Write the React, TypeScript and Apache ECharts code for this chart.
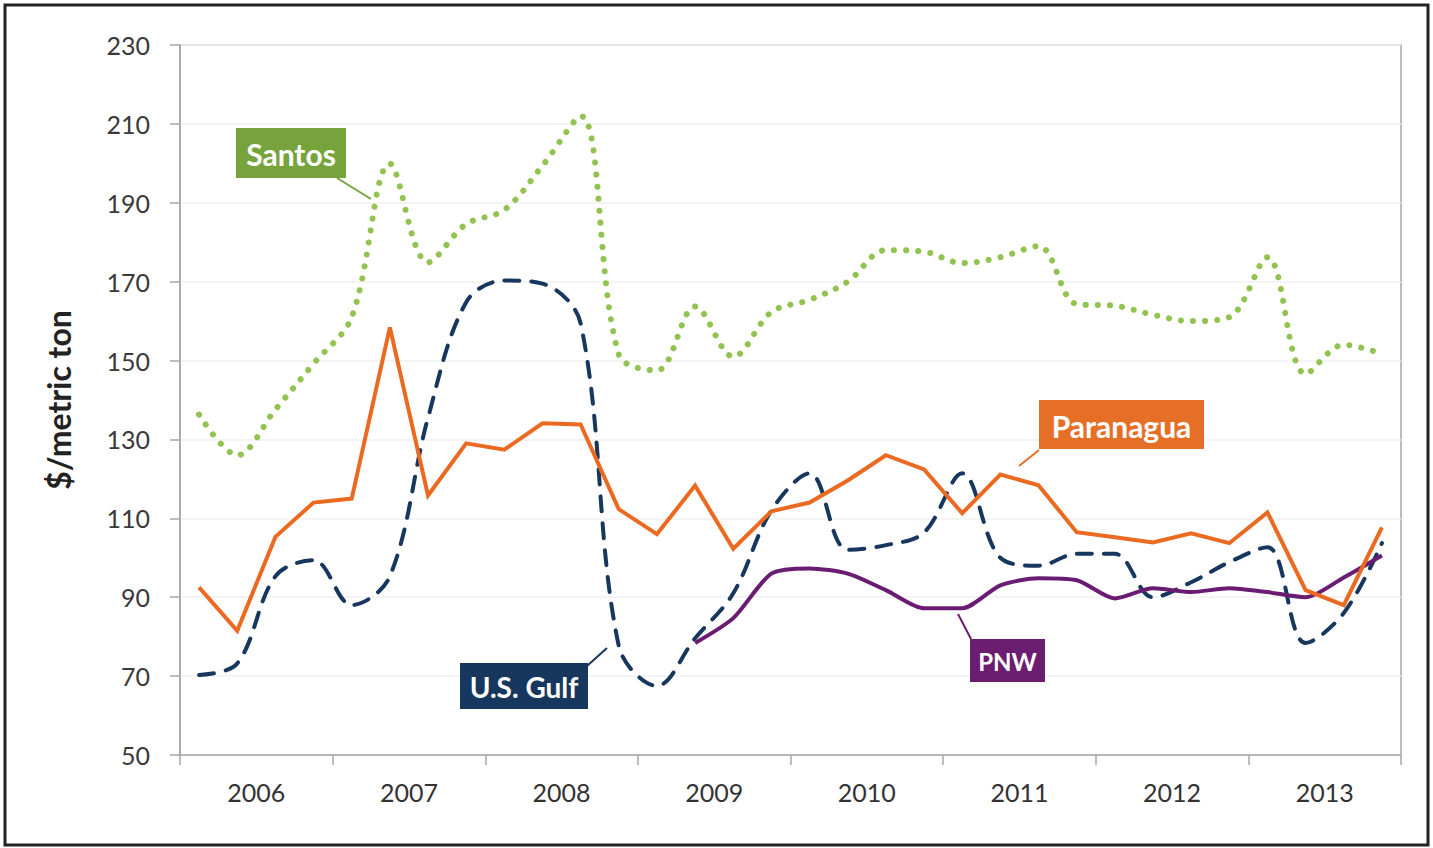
import React, { useEffect, useRef } from "react";
import * as echarts from "echarts";

const years = ["2006", "2007", "2008", "2009", "2010", "2011", "2012", "2013"];
const quarterNames = ["Q1", "Q2", "Q3", "Q4"];
const quarters = years.flatMap((y) => quarterNames.map((q) => `${y} ${q}`));

const santos = [
  136.3, 126, 137.6, 149.2, 161, 199.9, 174.9, 184.6, 188.2, 199.4, 212, 151.5,
  147.5, 163.7, 151, 162.3, 165.4, 170, 178, 177.6, 174.7, 176.2, 179, 164.3,
  163.9, 161.6, 160, 161, 176.2, 146.6, 154, 151.7,
];
const paranagua = [
  92.5, 81.5, 105.3, 114, 115, 158.4, 115.8, 129, 127.4, 134.1, 133.8, 112.3,
  106, 118.3, 102.3, 111.8, 114, 119.6, 126, 122.4, 111.3, 121.1, 118.4, 106.5,
  105.2, 103.9, 106.2, 103.7, 111.5, 91.8, 88, 107.7,
];
const usGulf = [
  70.3, 73.2, 95.3, 99.4, 88, 95.3, 135.5, 164.8, 170.3, 169.5, 159.4, 77.6,
  67.5, 79.6, 91, 112, 121.4, 102, 103.2, 106.4, 121.4, 100, 98, 101,
  101, 90, 93.8, 98.9, 102.7, 78.4, 86, 103.7,
];
const pnw = [
  null, null, null, null, null, null, null, null, null, null, null, null,
  null, 78.4, 84.7, 96, 97.3, 96, 91.8, 87.2, 87.2, 93, 94.8, 94.3,
  89.7, 92.3, 91.3, 92.3, 91.3, 90, 95, 100.6,
];

const Y_MIN = 50;
const Y_MAX = 230;
const Y_STEP = 20;

const FONT = "Lato, 'Open Sans', sans-serif";

function callout(
  label: string,
  color: string,
  box: [number, number, number, number],
  line: [number, number, number, number],
  fontSize: number
) {
  const [x, y, w, h] = box;
  return {
    type: "group",
    children: [
      {
        type: "line",
        shape: { x1: line[0], y1: line[1], x2: line[2], y2: line[3] },
        style: { stroke: color, lineWidth: 2 },
        z: 100,
      },
      {
        type: "rect",
        shape: { x, y, width: w, height: h },
        style: { fill: color },
        z: 100,
      },
      {
        type: "text",
        x: x + w / 2,
        y: y + h / 2 + 1,
        style: {
          text: label,
          fill: "#ffffff",
          font: `bold ${fontSize}px ${FONT}`,
          align: "center",
          verticalAlign: "middle",
          textAlign: "center",
          textVerticalAlign: "middle",
        },
        z: 101,
      },
    ],
  };
}

export default function App() {
  const ref = useRef<HTMLDivElement>(null);

  useEffect(() => {
    document.body.style.margin = "0";
    if (!ref.current) return;
    const chart = echarts.init(ref.current, undefined, { renderer: "svg" });

    const option: any = {
      animation: false,
      backgroundColor: "#ffffff",
      grid: {
        left: 180,
        right: 32,
        top: 45,
        bottom: 93,
        show: true,
        borderColor: "#a6a6a6",
        borderWidth: 1.5,
        backgroundColor: "transparent",
      },
      xAxis: [
        {
          type: "category",
          data: quarters,
          boundaryGap: true,
          position: "bottom",
          axisLine: { show: true, lineStyle: { color: "#a6a6a6", width: 1.5 } },
          axisTick: {
            show: true,
            interval: 3,
            length: 10,
            lineStyle: { color: "#a6a6a6", width: 1.5 },
          },
          axisLabel: { show: false },
          splitLine: { show: false },
        },
        {
          type: "category",
          data: years,
          boundaryGap: true,
          position: "bottom",
          axisLine: { show: false },
          axisTick: { show: false },
          axisLabel: {
            show: true,
            margin: 24,
            fontFamily: FONT,
            fontSize: 25,
            color: "#333333",
          },
          splitLine: { show: false },
        },
      ],
      yAxis: {
        type: "value",
        min: Y_MIN,
        max: Y_MAX,
        interval: Y_STEP,
        name: "$/metric ton",
        nameLocation: "middle",
        nameRotate: 90,
        nameGap: 106,
        nameTextStyle: {
          fontFamily: FONT,
          fontWeight: "bold",
          fontSize: 32,
          color: "#222222",
        },
        axisLine: { show: true, lineStyle: { color: "#a6a6a6", width: 1.5 } },
        axisTick: {
          show: true,
          length: 10,
          lineStyle: { color: "#a6a6a6", width: 1.5 },
        },
        axisLabel: {
          margin: 30,
          fontFamily: FONT,
          fontSize: 25,
          color: "#3a3a3a",
        },
        splitLine: { show: true, lineStyle: { color: "#f0f0f0", width: 1.5 } },
      },
      series: [
        {
          name: "Santos",
          type: "line",
          data: santos,
          smooth: 0.35,
          symbol: "none",
          lineStyle: {
            color: "#92c250",
            width: 6,
            type: [0.1, 12],
            cap: "round",
          },
          z: 3,
        },
        {
          name: "U.S. Gulf",
          type: "line",
          data: usGulf,
          smooth: 0.35,
          symbol: "none",
          lineStyle: {
            color: "#17375e",
            width: 4,
            type: [15, 12],
            cap: "round",
          },
          z: 4,
        },
        {
          name: "PNW",
          type: "line",
          data: pnw,
          smooth: 0.25,
          symbol: "none",
          connectNulls: false,
          lineStyle: { color: "#6a1b72", width: 4 },
          z: 5,
        },
        {
          name: "Paranagua",
          type: "line",
          data: paranagua,
          smooth: false,
          symbol: "none",
          lineStyle: { color: "#ea6a22", width: 4, join: "miter" },
          z: 6,
        },
      ],
      graphic: [
        {
          type: "rect",
          shape: { x: 5, y: 5, width: 1423, height: 840 },
          style: { fill: "none", stroke: "#222222", lineWidth: 3 },
          z: 200,
        },
        callout("Santos", "#77a33d", [236, 128, 110, 50], [337, 178, 371, 199], 30),
        callout("Paranagua", "#e66f27", [1039, 400, 165, 49], [1039, 450, 1019, 466], 30),
        callout("U.S. Gulf", "#17375e", [460, 663, 128, 46], [587, 666, 607, 648], 28),
        callout("PNW", "#6b1d6f", [970, 639, 75, 43], [958, 614, 971, 639], 24),
      ],
    };

    chart.setOption(option);
    return () => chart.dispose();
  }, []);

  return (
    <div style={{ position: "relative", width: 1433, height: 848, background: "#fff" }}>
      <div ref={ref} style={{ width: 1433, height: 848 }} />
    </div>
  );
}
